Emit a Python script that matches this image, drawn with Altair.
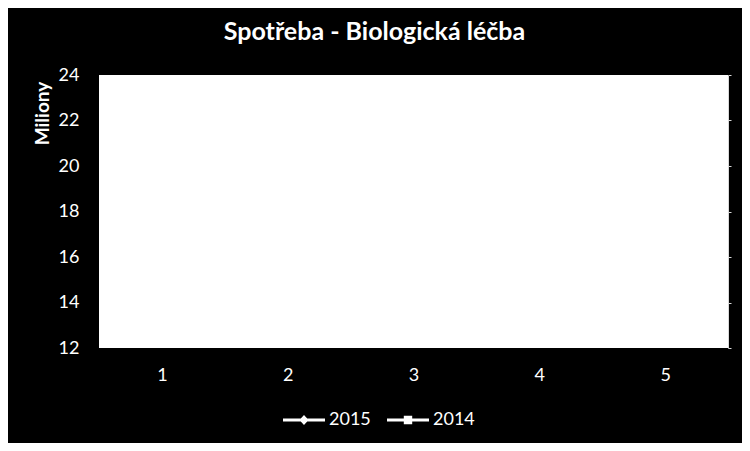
import altair as alt
import pandas as pd

categories = [1, 2, 3, 4, 5]
series_2015 = [17.2, 18.4, 19.1, 20.3, 21.0]
series_2014 = [15.8, 16.9, 17.5, 18.6, 19.2]
years = ["2015", "2014"]
y_ticks = [12, 14, 16, 18, 20, 22, 24]

rows = []
for c, v in zip(categories, series_2015):
    rows.append({"cat": c, "year": "2015", "value": v})
for c, v in zip(categories, series_2014):
    rows.append({"cat": c, "year": "2014", "value": v})
df = pd.DataFrame(rows)

FONT = "Lato"
diamond = "M-1,-0.07H1V0.07H-1ZM0,-0.24L0.22,0L0,0.24L-0.22,0Z"
square = "M-1,-0.07H1V0.07H-1ZM-0.2,-0.2H0.2V0.2H-0.2Z"

x_enc = alt.X("cat:O", title=None, sort=categories,
              scale=alt.Scale(paddingInner=0, paddingOuter=0),
              axis=alt.Axis(labelAngle=0, ticks=False, domain=False,
                            labelPadding=18, labelFontSize=18, labelColor="white",
                            labelFont=FONT))

lines = alt.Chart(df).mark_line(color="white", strokeWidth=3).encode(
    x=x_enc,
    y=alt.Y("value:Q", scale=alt.Scale(domain=[12, 24], nice=False, zero=False),
            axis=alt.Axis(values=y_ticks, title="Miliony", grid=False, ticks=False,
                          domain=False, labelPadding=20, labelFontSize=18,
                          labelColor="white", labelFont=FONT,
                          titleColor="white", titleFont=FONT, titleFontSize=19,
                          titleFontWeight="bold", titleAngle=-90,
                          titleAlign="center", titleBaseline="middle",
                          titleX=-57, titleY=38)),
    detail="year:N",
)

points = alt.Chart(df).mark_point(filled=True, color="white", opacity=1).encode(
    x=x_enc,
    y=alt.Y("value:Q", scale=alt.Scale(domain=[12, 24], nice=False, zero=False),
            axis=alt.Axis(orient="right", values=y_ticks, title=None, grid=False,
                          labels=False, ticks=True, tickSize=3, tickColor="#D9D9D9",
                          domain=True, domainColor="#D9D9D9")),
    shape=alt.Shape("year:N", sort=years,
                    scale=alt.Scale(domain=years, range=[diamond, square]),
                    legend=alt.Legend(title=None, orient="none", direction="horizontal",
                                      legendX=184, legendY=324,
                                      symbolSize=1764, symbolStrokeWidth=0,
                                      symbolFillColor="white",
                                      labelColor="white", labelFontSize=18,
                                      labelFont=FONT, labelOffset=4,
                                      columnPadding=16, padding=0)),
)

chart = alt.layer(lines, points).resolve_scale(y="independent").properties(
    width=629,
    height=273,
    background="black",
    autosize=alt.AutoSizeParams(type="none"),
    padding={"left": 91, "top": 67, "right": 14, "bottom": 95},
    title=alt.TitleParams("Spotřeba - Biologická léčba", color="white", font=FONT,
                          fontSize=25, fontWeight="bold", anchor="middle",
                          dx=-39, offset=21),
).configure_view(fill="white", stroke=None)

chart.save("out.html", embed_options={"renderer": "svg", "actions": False})
